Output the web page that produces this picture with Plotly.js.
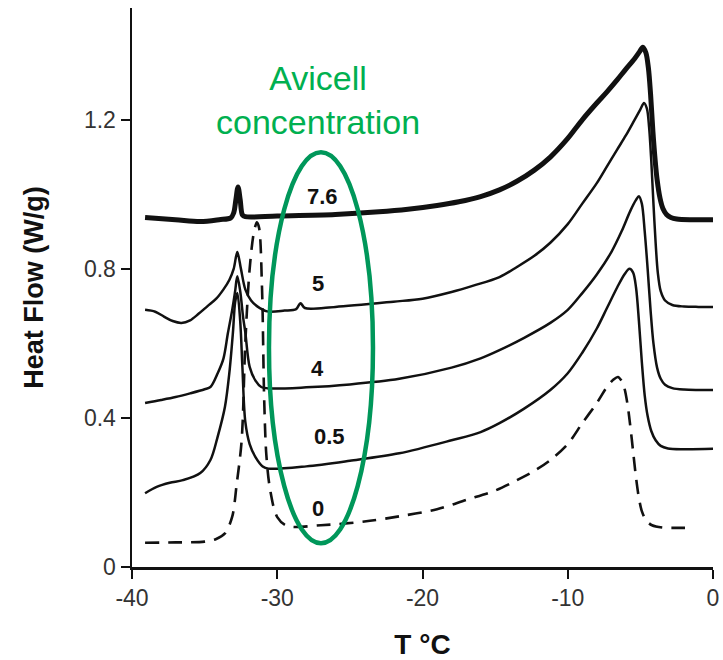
<!DOCTYPE html>
<html>
<head>
<meta charset="utf-8">
<script src="https://cdn.plot.ly/plotly-3.0.1.min.js"></script>
<style>html,body{margin:0;padding:0;background:#fff;}#chart{width:723px;height:660px;}</style>
</head>
<body>
<div id="chart"></div>
<script>
// ---- Data (T in °C, heat flow in W/g) ----
const T_76 = [-39.1,-37,-35.3,-34,-33.2,-33.0,-32.85,-32.7,-32.55,-32.4,-32.2,-30,-26,-23,-21,-19,-17.5,-16,-14.7,-13.5,-12.3,-11.2,-10,-9,-8,-7.3,-6.6,-6,-5.4,-5.05,-4.83,-4.62,-4.45,-4.3,-4.14,-3.98,-3.85,-3.65,-3.45,-3.2,-2.9,-2.5,-1.5,0];
const HF_76 = [0.938,0.932,0.927,0.932,0.937,0.95,0.985,1.02,0.985,0.945,0.94,0.942,0.946,0.953,0.96,0.97,0.98,0.994,1.012,1.035,1.065,1.10,1.15,1.2,1.245,1.275,1.307,1.336,1.364,1.383,1.395,1.38,1.34,1.27,1.17,1.09,1.04,0.99,0.962,0.946,0.938,0.934,0.932,0.932];

const T_5 = [-39.1,-38.4,-37.8,-37.2,-36.6,-36,-35.4,-34.8,-34.2,-33.7,-33.3,-33.0,-32.75,-32.5,-32.2,-31.8,-31.4,-30.7,-29.5,-28.7,-28.4,-28.1,-26,-22,-20,-18,-16.5,-14.7,-13.5,-12.3,-11.2,-10,-9,-8,-7.3,-6.6,-6,-5.4,-5.0,-4.75,-4.55,-4.4,-4.25,-4.1,-3.95,-3.8,-3.6,-3.3,-2.8,-2,-1,0];
const HF_5 = [0.69,0.685,0.672,0.66,0.655,0.662,0.68,0.70,0.72,0.745,0.77,0.80,0.845,0.80,0.745,0.715,0.70,0.686,0.688,0.692,0.708,0.695,0.698,0.712,0.72,0.738,0.755,0.778,0.805,0.835,0.87,0.92,0.975,1.03,1.075,1.12,1.158,1.2,1.228,1.245,1.23,1.18,1.09,0.975,0.87,0.79,0.74,0.715,0.703,0.699,0.698,0.698];

const T_4 = [-39.1,-38,-37,-36,-35,-34.6,-34.1,-33.7,-33.4,-33.1,-32.9,-32.75,-32.55,-32.35,-32.2,-31.9,-31.5,-31.1,-30.5,-28,-25,-21.6,-18,-16,-14.7,-13,-11.2,-10,-9,-8,-7,-6.3,-5.7,-5.3,-5.1,-4.9,-4.7,-4.5,-4.3,-4.1,-3.85,-3.6,-3.3,-2.8,-2,-1,0];
const HF_4 = [0.44,0.448,0.456,0.466,0.477,0.483,0.52,0.56,0.627,0.69,0.74,0.78,0.74,0.67,0.63,0.537,0.50,0.483,0.479,0.482,0.49,0.505,0.535,0.56,0.582,0.615,0.655,0.69,0.735,0.785,0.845,0.9,0.955,0.985,0.995,0.975,0.9,0.8,0.69,0.6,0.535,0.505,0.489,0.48,0.476,0.475,0.475];

const T_05 = [-39.1,-38.3,-37.4,-36.5,-35.3,-34.6,-34.1,-33.6,-33.3,-33.05,-32.9,-32.75,-32.55,-32.4,-32.2,-31.9,-31.5,-31.0,-30.6,-28,-25,-21.6,-18,-16,-14.7,-13,-11.2,-10,-9,-8,-7.3,-6.6,-6.1,-5.75,-5.5,-5.3,-5.1,-4.9,-4.7,-4.5,-4.25,-3.95,-3.6,-3.1,-2,0];
const HF_05 = [0.198,0.215,0.226,0.233,0.252,0.287,0.35,0.43,0.52,0.63,0.71,0.735,0.66,0.537,0.39,0.33,0.295,0.27,0.264,0.27,0.285,0.305,0.34,0.362,0.386,0.425,0.475,0.52,0.575,0.64,0.695,0.75,0.785,0.80,0.79,0.75,0.66,0.55,0.46,0.405,0.365,0.34,0.325,0.318,0.316,0.317];

const T_0 = [-39.1,-37,-35,-34.2,-33.6,-33.1,-32.8,-32.45,-32.2,-31.9,-31.6,-31.4,-31.25,-31.05,-30.9,-30.75,-30.5,-30.0,-29.3,-27,-24,-21.6,-19,-17,-15,-13.5,-12.3,-11.2,-10,-9,-8,-7.3,-6.85,-6.55,-6.3,-6.1,-5.9,-5.7,-5.5,-5.3,-5.1,-4.9,-4.6,-4.2,-3.5,-2.5,-1.7];
const HF_0 = [0.065,0.066,0.068,0.075,0.09,0.135,0.22,0.34,0.6,0.8,0.9,0.925,0.91,0.75,0.45,0.3,0.21,0.134,0.11,0.112,0.122,0.136,0.155,0.18,0.205,0.233,0.258,0.287,0.33,0.386,0.44,0.483,0.503,0.51,0.5,0.48,0.44,0.38,0.31,0.24,0.185,0.15,0.125,0.112,0.106,0.105,0.105];

const seriesNames = ['7.6','5','4','0.5','0'];
const xTicks = [-40,-30,-20,-10,0];
const yTicks = [0,0.4,0.8,1.2];
const yTickLabels = ['0','0.4','0.8','1.2'];

const black = '#111';
function tr(x, y, name, width, dash) {
  return {x: x, y: y, name: name, type: 'scatter', mode: 'lines',
    line: {color: black, width: width, dash: dash, shape: 'spline', smoothing: 0.9},
    hoverinfo: 'skip'};
}
const traces = [
  tr(T_76, HF_76, seriesNames[0], 5, 'solid'),
  tr(T_5, HF_5, seriesNames[1], 2.5, 'solid'),
  tr(T_4, HF_4, seriesNames[2], 2.5, 'solid'),
  tr(T_05, HF_05, seriesNames[3], 2.5, 'solid'),
  tr(T_0, HF_0, seriesNames[4], 2.6, '14px,9px')
];

const labelFont = {family: 'Liberation Sans, Arial, sans-serif', size: 22, color: '#111', weight: 'bold'};
function lab(text, x, y) {
  return {text: text, x: x, y: y, xref: 'x', yref: 'y', showarrow: false, font: labelFont, xanchor: 'center', yanchor: 'middle'};
}

const layout = {
  width: 723, height: 660,
  margin: {l: 132, r: 10, t: 8, b: 93},
  paper_bgcolor: '#fff', plot_bgcolor: '#fff',
  showlegend: false,
  font: {family: 'Liberation Sans, Arial, sans-serif', color: '#222'},
  xaxis: {
    range: [-40, 0], tickvals: xTicks, ticktext: xTicks.map(String),
    showgrid: false, zeroline: false, showline: true, linecolor: '#111', linewidth: 2.5,
    ticks: 'outside', ticklen: 9, tickwidth: 2, tickcolor: '#111',
    tickfont: {size: 23, color: '#333'},
    title: {text: 'T °C', font: {size: 28, weight: 'bold', color: '#111'}, standoff: 26}
  },
  yaxis: {
    range: [0, 1.5], tickvals: yTicks, ticktext: yTickLabels,
    showgrid: false, zeroline: false, showline: true, linecolor: '#111', linewidth: 2.5,
    ticks: 'outside', ticklen: 9, tickwidth: 2, tickcolor: '#111',
    tickfont: {size: 23, color: '#333'},
    title: {text: 'Heat Flow (W/g)', font: {size: 27, weight: 'bold', color: '#111'}, standoff: 33}
  },
  shapes: [{
    type: 'circle', xref: 'x', yref: 'y',
    x0: -30.57, x1: -23.41, y0: 0.064, y1: 1.113,
    line: {color: '#00975A', width: 4.5}
  }],
  annotations: [
    {text: 'Avicell<br>concentration', x: -27.2, y: 1.253, xref: 'x', yref: 'y', showarrow: false,
     font: {family: 'Liberation Sans, Arial, sans-serif', size: 34, color: '#00B050'}, xanchor: 'center', yanchor: 'middle'},
    lab('7.6', -26.9, 0.993),
    lab('5', -27.2, 0.762),
    lab('4', -27.2, 0.534),
    lab('0.5', -26.4, 0.349),
    lab('0', -27.2, 0.158)
  ]
};

Plotly.newPlot('chart', traces, layout, {staticPlot: true, displayModeBar: false});
</script>
</body>
</html>
